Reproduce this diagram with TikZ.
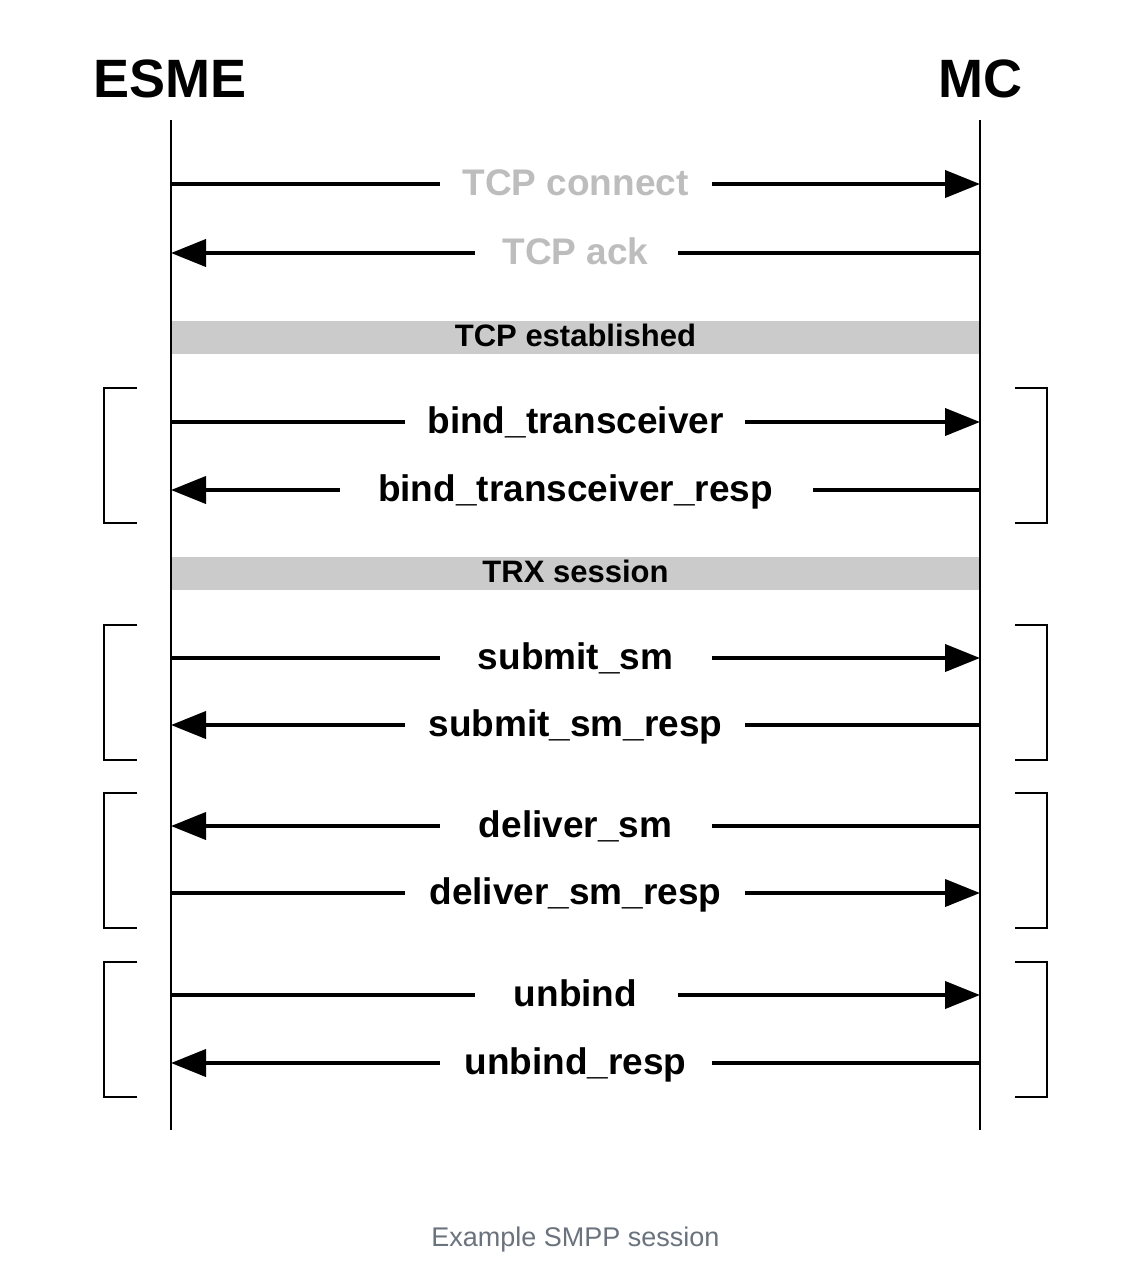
\documentclass[tikz,border=0pt]{standalone}
\usepackage{fontspec}
\setmainfont{Liberation Sans}
\usetikzlibrary{arrows.meta}
\definecolor{bandgray}{HTML}{CBCBCB}
\definecolor{tcpgray}{HTML}{BDBDBD}
\definecolor{capgray}{HTML}{6A737D}
\begin{document}
\begin{tikzpicture}[x=1pt,y=-1pt,
  life/.style={line width=2pt},
  seg/.style={line width=4pt},
  msgarrow/.style={line width=4pt,-{Triangle[length=35pt,width=27pt]}},
  brk/.style={line width=2pt},
  head/.style={font=\fontsize{54}{60}\selectfont\bfseries,anchor=base,inner sep=0pt},
  lbl/.style={font=\fontsize{37}{42}\selectfont\bfseries,anchor=base,inner sep=0pt},
  bandtxt/.style={font=\fontsize{31}{35}\selectfont\bfseries,anchor=base,inner sep=0pt},
  band/.style={fill=bandgray,draw=none},
  captxt/.style={font=\fontsize{27}{32}\selectfont,text=capgray,anchor=base,inner sep=0pt}]
\useasboundingbox[fill=white] (0,0) rectangle (1128,1278);

% headers and lifelines
\node[head] (esme) at (170,97) {ESME};
\node[head] (mc) at (980,97) {MC};
\coordinate (etop) at (171,120);
\coordinate (ebot) at (171,1130);
\coordinate (mtop) at (980,120);
\coordinate (mbot) at (980,1130);

% bands
\node[band,minimum width=809pt,minimum height=33pt,inner sep=0pt,anchor=north west] (band1) at (171,321) {};
\node[bandtxt] (band1t) at (575.5,346) {TCP established};
\node[band,minimum width=809pt,minimum height=33pt,inner sep=0pt,anchor=north west] (band2) at (171,557) {};
\node[bandtxt] (band2t) at (575.5,582) {TRX session};

\draw[life] (etop) -- (ebot);
\draw[life] (mtop) -- (mbot);

% messages: y / left gap end / right gap start / direction / colour / label
\foreach \y/\ga/\gb/\dir/\col/\txt [count=\i] in {
  184/440/712/r/tcpgray/TCP connect,
  253/475/678/l/tcpgray/TCP ack,
  422/405/745/r/black/bind\_transceiver,
  490/340/813/l/black/bind\_transceiver\_resp,
  658/440/712/r/black/submit\_sm,
  725/405/745/l/black/submit\_sm\_resp,
  826/440/712/l/black/deliver\_sm,
  893/405/745/r/black/deliver\_sm\_resp,
  995/475/678/r/black/unbind,
  1063/440/712/l/black/unbind\_resp}{
  \coordinate (e\i) at (171,\y);
  \coordinate (m\i) at (980,\y);
  \coordinate (ga\i) at (\ga,\y);
  \coordinate (gb\i) at (\gb,\y);
  \node[lbl,text=\col] (t\i) at (575.5,\y+11) {\txt};
  \if r\dir
    \draw[seg] (e\i) -- (ga\i);
    \draw[msgarrow] (gb\i) -- (m\i);
  \else
    \draw[msgarrow] (ga\i) -- (e\i);
    \draw[seg] (gb\i) -- (m\i);
  \fi
}

% brackets
\foreach \top/\bot [count=\j] in {388/523, 625/760, 793/928, 962/1097}{
  \draw[brk] (137,\top) -- (104,\top) -- (104,\bot) -- (137,\bot);
  \draw[brk] (1015,\top) -- (1047,\top) -- (1047,\bot) -- (1015,\bot);
}

% caption
\node[captxt] (caption) at (575.5,1246) {Example SMPP session};
\end{tikzpicture}
\end{document}
